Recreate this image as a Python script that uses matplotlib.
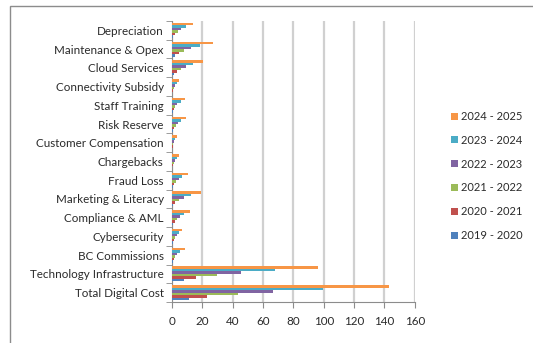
import numpy as np
import matplotlib.pyplot as plt
from matplotlib.patches import Rectangle

# categories listed bottom to top
categories = [
    "Total Digital Cost", "Technology Infrastructure", "BC Commissions",
    "Cybersecurity", "Compliance & AML", "Marketing & Literacy", "Fraud Loss",
    "Chargebacks", "Customer Compensation", "Risk Reserve", "Staff Training",
    "Connectivity Subsidy", "Cloud Services", "Maintenance & Opex", "Depreciation",
]

fy_2019_20 = [11.2, 7.7, 0.5, 0.4, 0.7, 0.9, 0.4, 0.2, 0.2, 0.4, 0.4, 0.2, 1.1, 1.8, 0.9]
fy_2020_21 = [23.0, 15.6, 1.3, 1.0, 1.7, 2.2, 1.3, 0.7, 0.4, 1.1, 1.1, 0.7, 3.0, 4.8, 1.8]
fy_2021_22 = [43.3, 29.9, 2.2, 2.0, 3.0, 4.8, 2.6, 1.3, 0.9, 2.4, 2.2, 1.1, 5.7, 8.1, 3.7]
fy_2022_23 = [66.8, 45.7, 3.3, 3.0, 5.0, 8.1, 4.4, 2.0, 1.3, 3.7, 3.5, 2.0, 9.2, 12.3, 5.9]
fy_2023_24 = [99.8, 67.9, 5.5, 4.6, 7.7, 12.3, 6.8, 3.0, 2.0, 6.2, 5.7, 3.0, 14.0, 18.5, 9.2]
fy_2024_25 = [143.3, 96.0, 8.6, 6.8, 11.9, 18.9, 10.5, 4.4, 3.0, 9.2, 8.6, 4.8, 20.7, 26.8, 13.6]

series = [
    ("2019 - 2020", fy_2019_20, "#4F81BD"),
    ("2020 - 2021", fy_2020_21, "#C0504D"),
    ("2021 - 2022", fy_2021_22, "#9BBB59"),
    ("2022 - 2023", fy_2022_23, "#8064A2"),
    ("2023 - 2024", fy_2023_24, "#4BACC6"),
    ("2024 - 2025", fy_2024_25, "#F79646"),
]

plt.rcParams['font.family'] = ['Lato', 'DejaVu Sans']
text_color = "#2a2a2a"
fsize = 8.4

fig = plt.figure(figsize=(5.33, 3.43), dpi=100)
fig.patches.append(Rectangle((10 / 533, -0.1), 1.2, 1.1 - 6 / 343,
                             transform=fig.transFigure, fill=False,
                             edgecolor="#8c8c8c", linewidth=1.0))
ax = fig.add_axes([172 / 533, 1 - 302 / 343, (414.7 - 172) / 533, (302 - 21) / 343])

y = np.arange(len(categories))
bar_h = 0.8 / len(series)
handles = []
for i, (label, vals, color) in enumerate(series):
    offs = (i - (len(series) - 1) / 2) * bar_h
    h = ax.barh(y + offs, vals, height=bar_h, color=color, label=label, zorder=3)
    handles.append(h)

ax.set_xlim(0, 160)
ax.set_ylim(-0.5, len(categories) - 0.5)
ax.set_xticks(np.arange(0, 161, 20))
ax.set_yticks(y)
ax.set_yticklabels(categories)
ax.set_yticks(np.arange(-0.5, len(categories), 1), minor=True)
ax.tick_params(axis="y", which="major", length=0, pad=6, labelsize=fsize, labelcolor=text_color)
ax.tick_params(axis="y", which="minor", length=4, color="#8c8c8c", direction="out")
ax.tick_params(axis="x", length=4, color="#8c8c8c", labelsize=fsize, labelcolor=text_color, pad=6)

ax.grid(axis="x", color="#d0d0d0", linewidth=1.6, zorder=0)
for side in ("top", "right"):
    ax.spines[side].set_visible(False)
for side in ("left", "bottom"):
    ax.spines[side].set_color("#8c8c8c")
    ax.spines[side].set_linewidth(0.8)

leg = fig.legend(handles[::-1], [s[0] for s in series][::-1],
                 loc="center left", bbox_to_anchor=(441 / 533, 1 - 176 / 343),
                 frameon=False, fontsize=8.0, handlelength=0.6, handleheight=0.6,
                 handletextpad=0.3, labelspacing=1.15)
for t in leg.get_texts():
    t.set_color(text_color)

fig.savefig("out.png", dpi=100)
